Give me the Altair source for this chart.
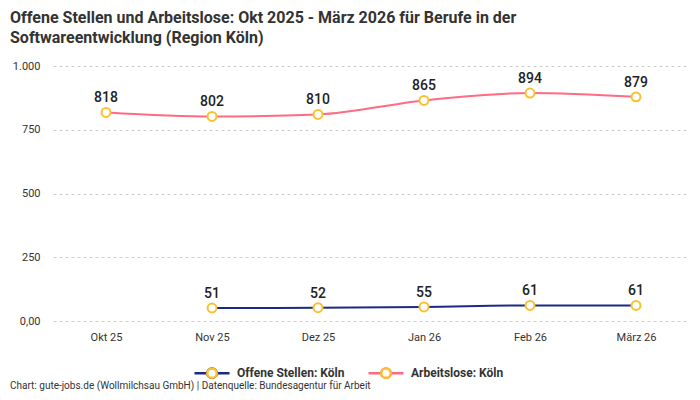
import altair as alt
import pandas as pd

monate = ["Okt 25", "Nov 25", "Dez 25", "Jan 26", "Feb 26", "März 26"]
offene_stellen = [None, 51, 52, 55, 61, 61]
arbeitslose = [818, 802, 810, 865, 894, 879]
serien = ["Offene Stellen: Köln", "Arbeitslose: Köln"]
farben = ["#1b2a85", "#ff6b83"]
punkt_farbe = "#fbc02d"

rows = []
for name, werte in zip(serien, [offene_stellen, arbeitslose]):
    for m, w in zip(monate, werte):
        if w is not None:
            rows.append({"monat": m, "serie": name, "serie_punkt": name, "wert": w})
df = pd.DataFrame(rows)

font = "Roboto"
# Legendensymbole: Linie mit Kreis in der Mitte, gelber Kreis liegt darueber.
# Die beiden M-Befehle geben dem Kreis dieselbe Breite wie der Linie (fuer das Layout).
kreis = "M0.27,0A0.27,0.27 0 1,1 -0.27,0A0.27,0.27 0 1,1 0.27,0Z"
kreis_pfad = "M-1,0M1,0" + kreis
linien_pfad = "M-1,0L-0.31,0" + kreis + "M0.31,0L1,0"

legende = dict(orient="none", legendX=140, legendY=288, direction="horizontal", title=None,
               symbolSize=1225, symbolStrokeWidth=2.5, labelOffset=6,
               labelFont=font, labelFontSize=12, labelFontWeight="bold",
               labelColor="#333333", columnPadding=18, padding=0)

x = alt.X("monat:N", sort=monate, title=None,
          scale=alt.Scale(type="point", padding=0.5),
          axis=alt.Axis(labelAngle=0, ticks=False, domain=False, grid=False, labelPadding=10,
                        labelFont=font, labelFontSize=11, labelColor="#333333"))
y = alt.Y("wert:Q", title=None, scale=alt.Scale(domain=[0, 1000]),
          axis=alt.Axis(values=[0, 250, 500, 750, 1000], ticks=False, domain=False,
                        labelPadding=13, labelFont=font, labelFontSize=11, labelColor="#333333",
                        gridDash=[3, 3], gridColor="#cccccc",
                        labelExpr="datum.value == 0 ? '0,00' : replace(format(datum.value, ','), ',', '.')"))

base = alt.Chart(df)

linien = base.mark_line(interpolate="monotone", strokeWidth=2).encode(
    x=x, y=y,
    stroke=alt.Stroke("serie:N", scale=alt.Scale(domain=serien, range=farben),
                      legend=alt.Legend(symbolType=linien_pfad, symbolFillColor="white", **legende)),
)

punkte = base.mark_point(filled=False, fill="white", stroke=punkt_farbe, strokeWidth=2,
                         size=80).encode(
    x=x, y=y,
    opacity=alt.Opacity("serie_punkt:N", sort=serien, scale=alt.Scale(range=[1, 1]),
                        legend=alt.Legend(symbolType=kreis_pfad, labelOpacity=0, **legende)),
)

werte_text = base.mark_text(dy=-10, baseline="alphabetic", font=font, fontSize=14,
                            fontWeight=500, color="#222222").encode(
    x=x, y=y, text=alt.Text("wert:Q"),
)

fussnote = alt.Chart(pd.DataFrame({"t": ["Chart: gute-jobs.de (Wollmilchsau GmbH) | Datenquelle: Bundesagentur für Arbeit"]})).mark_text(
    align="left", baseline="alphabetic", font=font, fontSize=10, color="#333333"
).encode(x=alt.value(-43), y=alt.value(323), text="t:N")

chart = alt.layer(linien, punkte, werte_text, fussnote).properties(
    width=636, height=255,
    autosize=alt.AutoSizeParams(type="none"),
    padding={"left": 45, "top": 58, "right": 3, "bottom": 71},
    title=alt.TitleParams(
        ["Offene Stellen und Arbeitslose: Okt 2025 - März 2026 für Berufe in der",
         "Softwareentwicklung (Region Köln)"],
        anchor="start", frame="group", dx=-43, offset=14, font=font, fontSize=16,
        fontWeight="bold", color="#333333", lineHeight=20),
).configure_view(stroke=None)

chart.save("out.html", embed_options={"renderer": "svg", "actions": False})
